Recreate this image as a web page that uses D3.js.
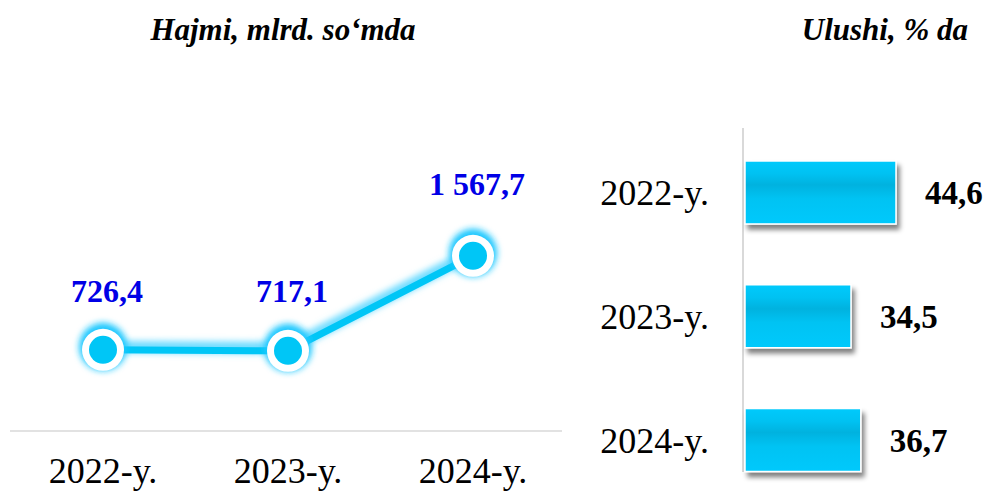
<!DOCTYPE html>
<html>
<head>
<meta charset="utf-8">
<script src="https://cdn.jsdelivr.net/npm/d3@7"></script>
<style>
  html, body { margin: 0; padding: 0; background: #fff; }
  svg { display: block; font-family: 'Liberation Serif', 'Times New Roman', serif; }
</style>
</head>
<body>
<div id="chart"></div>
<script>
const years = ['2022-y.', '2023-y.', '2024-y.'];
const volume = [726.4, 717.1, 1567.7];
const volumeLabels = ['726,4', '717,1', '1 567,7'];
const share = [44.6, 34.5, 36.7];
const shareLabels = ['44,6', '34,5', '36,7'];
const titles = ['Hajmi, mlrd. so‘mda', 'Ulushi, % da'];

const width = 990, height = 493;
const cyan = '#00c6f6';

const svg = d3.select('#chart')
  .append('svg')
  .attr('width', width)
  .attr('height', height);

const defs = svg.append('defs');

// glow for the line + markers
const glow = defs.append('filter').attr('id', 'glow')
  .attr('x', '-50%').attr('y', '-50%').attr('width', '200%').attr('height', '200%');
glow.append('feGaussianBlur').attr('stdDeviation', 3);

// drop shadow under the bars
const shadow = defs.append('filter').attr('id', 'shadow')
  .attr('x', '-20%').attr('y', '-30%').attr('width', '140%').attr('height', '170%');
shadow.append('feGaussianBlur').attr('in', 'SourceAlpha').attr('stdDeviation', 2.5);
shadow.append('feOffset').attr('dx', 3).attr('dy', 5).attr('result', 'off');
shadow.append('feComponentTransfer').append('feFuncA').attr('type', 'linear').attr('slope', 0.5);
const merge = shadow.append('feMerge');
merge.append('feMergeNode');
merge.append('feMergeNode').attr('in', 'SourceGraphic');

const barGrad = defs.append('linearGradient').attr('id', 'barGrad')
  .attr('x1', 0).attr('y1', 0).attr('x2', 0).attr('y2', 1);
[[0, '#00cafc'], [0.2, '#00c2f2'], [0.38, '#00b2df'], [0.6, '#00c3f3'], [1, '#00c9fc']]
  .forEach(([o, c]) => barGrad.append('stop').attr('offset', o).attr('stop-color', c));

const reflGrad = defs.append('linearGradient').attr('id', 'reflGrad')
  .attr('x1', 0).attr('y1', 0).attr('x2', 1).attr('y2', 0);
reflGrad.append('stop').attr('offset', 0).attr('stop-color', '#3fc6f0');
reflGrad.append('stop').attr('offset', 0.6).attr('stop-color', '#6fd6f6');
reflGrad.append('stop').attr('offset', 1).attr('stop-color', '#ffffff').attr('stop-opacity', 0);

// titles
svg.append('text')
  .attr('x', 283).attr('y', 40)
  .attr('text-anchor', 'middle')
  .style('font-size', '31px').style('font-weight', 'bold').style('font-style', 'italic')
  .text(titles[0]);

svg.append('text')
  .attr('x', 968).attr('y', 40)
  .attr('text-anchor', 'end')
  .style('font-size', '31px').style('font-weight', 'bold').style('font-style', 'italic')
  .text(titles[1]);

// ---------- left: line chart ----------
const x = d3.scalePoint().domain(years).range([103, 473]);
const y = d3.scaleLinear().domain([0, 1600]).range([431, 252.2]);

const left = svg.append('g');

left.append('line')
  .attr('x1', 10).attr('x2', 562)
  .attr('y1', y(0)).attr('y2', y(0))
  .attr('stroke', '#d9d9d9').attr('stroke-width', 1.5);

left.append('line')
  .attr('x1', 96).attr('x2', 446)
  .attr('y1', y(0) - 2).attr('y2', y(0) - 2)
  .attr('stroke', 'url(#reflGrad)').attr('stroke-width', 2.5);

const line = d3.line()
  .x((d, i) => x(years[i]))
  .y(d => y(d));

left.append('path')
  .datum(volume)
  .attr('d', line)
  .attr('fill', 'none')
  .attr('stroke', '#6fdcff')
  .attr('stroke-width', 12)
  .attr('transform', 'translate(0,-3)')
  .attr('filter', 'url(#glow)');

left.append('path')
  .datum(volume)
  .attr('d', line)
  .attr('fill', 'none')
  .attr('stroke', cyan)
  .attr('stroke-width', 7);

const pts = left.selectAll('.pt')
  .data(volume)
  .enter().append('g')
    .attr('class', 'pt')
    .attr('transform', (d, i) => `translate(${x(years[i])},${y(d)})`);

pts.append('circle')
  .attr('r', 24)
  .attr('cy', -3)
  .attr('fill', '#1ec8ff')
  .attr('filter', 'url(#glow)');
pts.append('circle')
  .attr('r', 21)
  .attr('fill', '#fff');
pts.append('circle')
  .attr('r', 14)
  .attr('fill', cyan);

const labelDy = [-48, -49, -61];
left.selectAll('.vlab')
  .data(volume)
  .enter().append('text')
    .attr('class', 'vlab')
    .attr('x', (d, i) => x(years[i]) + 4)
    .attr('y', (d, i) => y(d) + labelDy[i])
    .attr('text-anchor', 'middle')
    .style('font-size', '32px').style('font-weight', 'bold')
    .attr('fill', '#0000e6')
    .text((d, i) => volumeLabels[i]);

left.selectAll('.xlab')
  .data(years)
  .enter().append('text')
    .attr('class', 'xlab')
    .attr('x', d => x(d))
    .attr('y', 483)
    .attr('text-anchor', 'middle')
    .style('font-size', '36px')
    .text(d => d);

// ---------- right: bar chart ----------
const yb = d3.scaleBand()
  .domain(years)
  .range([130.6, 501.9])
  .paddingInner(0.491)
  .paddingOuter(0.2455);
const xb = d3.scaleLinear().domain([10.7, 44.6]).range([745, 896]);

const right = svg.append('g');

right.append('line')
  .attr('x1', 743).attr('x2', 743)
  .attr('y1', 128).attr('y2', 472)
  .attr('stroke', '#d9d9d9').attr('stroke-width', 2);

right.selectAll('.bar')
  .data(share)
  .enter().append('rect')
    .attr('class', 'bar')
    .attr('x', xb(10.7))
    .attr('y', (d, i) => yb(years[i]))
    .attr('width', d => xb(d) - xb(10.7))
    .attr('height', yb.bandwidth())
    .attr('fill', 'url(#barGrad)')
    .attr('stroke', '#fff')
    .attr('stroke-width', 1.5)
    .attr('filter', 'url(#shadow)');

right.selectAll('.slab')
  .data(share)
  .enter().append('text')
    .attr('class', 'slab')
    .attr('x', d => xb(d) + 29)
    .attr('y', (d, i) => yb(years[i]) + yb.bandwidth() / 2)
    .attr('dy', '0.36em')
    .style('font-size', '33px').style('font-weight', 'bold')
    .text((d, i) => shareLabels[i]);

right.selectAll('.ylab')
  .data(years)
  .enter().append('text')
    .attr('class', 'ylab')
    .attr('x', 709)
    .attr('y', d => yb(d) + yb.bandwidth() / 2)
    .attr('dy', '0.36em')
    .attr('text-anchor', 'end')
    .style('font-size', '36px')
    .text(d => d);
</script>
</body>
</html>
